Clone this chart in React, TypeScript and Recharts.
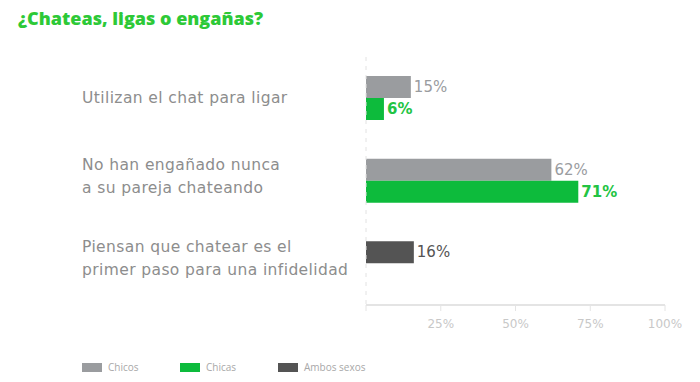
import { Bar, BarChart, LabelList, Legend, XAxis, YAxis } from 'recharts'

const categories = [
  'Utilizan el chat para ligar',
  'No han engañado nunca\na su pareja chateando',
  'Piensan que chatear es el\nprimer paso para una infidelidad',
]
const chicos = [15, 62, null]
const chicas = [6, 71, null]
const ambos = [null, null, 16]
const xTicks = [0, 25, 50, 75, 100]

const data = categories.map((name, i) => ({
  name,
  chicos: chicos[i],
  chicas: chicas[i],
  ambos: ambos[i],
}))

const GRAY = '#9a9c9f'
const GREEN = '#0dbb3c'
const DARK = '#545454'
const FONT = '"DejaVu Sans", sans-serif'

const legendItems = [
  { label: 'Chicos', color: GRAY },
  { label: 'Chicas', color: GREEN },
  { label: 'Ambos sexos', color: DARK },
]

function CategoryTick(props: any) {
  const { y, payload } = props
  const lines = String(payload.value).split('\n')
  const lh = 23
  // two-line labels sit a little above the bar centre in the original
  const shift = lines.length > 1 ? -5 : 0
  const start = y - ((lines.length - 1) * lh) / 2 + shift
  return (
    <text
      x={82}
      y={start}
      fill='#8d8d8d'
      fontSize={15.5}
      letterSpacing={0.4}
      fontFamily={FONT}
      dominantBaseline='central'
    >
      {lines.map((l, i) => (
        <tspan key={i} x={82} y={start + i * lh}>
          {l}
        </tspan>
      ))}
    </text>
  )
}

const valueLabel = (color: string, weight: number) => (props: any) => {
  const { x, y, width, height, value } = props
  if (value == null) return null
  return (
    <text
      x={x + width + 3}
      y={y + height / 2}
      fill={color}
      fontSize={15}
      fontWeight={weight}
      fontFamily={FONT}
      dominantBaseline='central'
    >
      {value}%
    </text>
  )
}

function LegendContent() {
  return (
    <div style={{ display: 'flex', fontFamily: '"Open Sans", sans-serif', fontSize: 10, color: '#a8a8a8' }}>
      {legendItems.map((it) => (
        <div key={it.label} style={{ display: 'flex', alignItems: 'center', width: 98 }}>
          <span style={{ width: 20, height: 9, background: it.color, marginRight: 6, display: 'inline-block' }} />
          {it.label}
        </div>
      ))}
    </div>
  )
}

export default function App() {
  return (
    <div style={{ position: 'absolute', left: 0, top: 0, width: 700, height: 382, background: '#fff' }}>
      <div
        style={{
          position: 'absolute',
          left: 18,
          top: 6,
          color: '#2dc937',
          fontFamily: '"Open Sans", sans-serif',
          fontWeight: 800,
          fontSize: 18,
        }}
      >
        ¿Chateas, ligas o engañas?
      </div>
      <BarChart
        width={700}
        height={382}
        data={data}
        layout='vertical'
        barGap={0}
        barSize={22}
        margin={{ top: 57, right: 35, bottom: 33, left: 0 }}
      >
        <XAxis
          type='number'
          domain={[0, 100]}
          ticks={xTicks}
          tickFormatter={(v) => (v === 0 ? '' : `${v}%`)}
          axisLine={{ stroke: '#e4e4e4', strokeWidth: 2 }}
          tickLine={{ stroke: '#e4e4e4' }}
          tick={{ fill: '#c8c8c8', fontSize: 12, fontFamily: FONT }}
          tickSize={6}
          tickMargin={8}
          height={30}
        />
        <YAxis
          type='category'
          dataKey='name'
          width={366}
          tick={<CategoryTick />}
          tickLine={false}
          axisLine={{ stroke: '#e2e2e2', strokeDasharray: '4 5' }}
        />
        <Legend
          content={<LegendContent />}
          wrapperStyle={{ position: 'absolute', left: 82, top: 360, width: 'auto' }}
        />
        <Bar dataKey='chicos' stackId='top' fill={GRAY} isAnimationActive={false}>
          <LabelList dataKey='chicos' content={valueLabel(GRAY, 400)} />
        </Bar>
        <Bar dataKey='ambos' stackId='top' fill={DARK} isAnimationActive={false}>
          <LabelList dataKey='ambos' content={valueLabel(DARK, 400)} />
        </Bar>
        <Bar dataKey='chicas' fill={GREEN} isAnimationActive={false}>
          <LabelList dataKey='chicas' content={valueLabel('#22c443', 600)} />
        </Bar>
      </BarChart>
    </div>
  )
}
